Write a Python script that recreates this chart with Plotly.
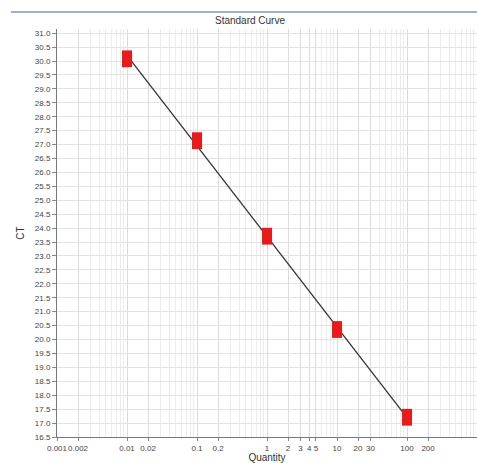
import numpy as np
import plotly.graph_objects as go

quantity = [0.01, 0.1, 1, 10, 100]
ct = [30.08, 27.14, 23.71, 20.36, 17.21]

x_tick_vals = [0.001, 0.002, 0.01, 0.02, 0.1, 0.2, 1, 2, 3, 4, 5, 10, 20, 30, 100, 200, 1000]
x_tick_text = ["0.001", "0.002", "0.01", "0.02", "0.1", "0.2", "1", "2", "3", "4", "5", "10", "20", "30", "100", "200", "1000"]

# regression line from the data
coef = np.polyfit(np.log10(quantity), ct, 1)
fit_x = [quantity[0], quantity[-1]]
fit_y = list(np.polyval(coef, np.log10(fit_x)))

minor_vals = [k * 10.0 ** e for e in range(-3, 3) for k in range(1, 10)]

fig = go.Figure()
fig.add_trace(go.Scatter(
    x=fit_x, y=fit_y, mode="lines",
    line=dict(color="#333333", width=1.3), hoverinfo="skip", showlegend=False))
fig.add_trace(go.Scatter(
    x=quantity, y=ct, mode="markers",
    marker=dict(symbol="line-ns", size=12, color="#e81a1a",
                line=dict(width=10, color="#e81a1a")),
    showlegend=False))

font_xtick = dict(family="Liberation Sans Narrow, Liberation Sans, Arial, sans-serif", size=8, color="#444444")
font_ytick = dict(family="Liberation Sans, Arial, sans-serif", size=8, color="#444444")
font_title = dict(family="Liberation Sans, Arial, sans-serif", size=10, color="#333333")

fig.update_layout(
    width=477, height=463,
    margin=dict(l=57, r=0, t=29, b=23),
    paper_bgcolor="white", plot_bgcolor="white",
    title=dict(text="Standard Curve", x=250 / 477, xanchor="center",
               y=1 - 20 / 463, yanchor="middle", yref="container",
               font=font_title),
    xaxis=dict(
        type="log", range=[-3, 3], tickmode="array",
        tickvals=x_tick_vals, ticktext=x_tick_text, tickfont=font_xtick,
        tickangle=0,
        ticks="outside", ticklen=3, tickcolor="#888888",
        showline=True, linecolor="#777777", linewidth=1,
        showgrid=True, gridcolor="#dcdcdc", gridwidth=1,
        minor=dict(tickmode="array", tickvals=minor_vals, showgrid=True,
                   gridcolor="#ececec", gridwidth=1, ticks=""),
        zeroline=False,
        title=dict(text="Quantity", standoff=3, font=font_title),
    ),
    yaxis=dict(
        range=[16.5, 31.15], dtick=0.5, tick0=16.5, tickformat=".1f",
        tickfont=font_ytick, ticks="outside", ticklen=4, tickcolor="#888888",
        showline=True, linecolor="#777777", linewidth=1,
        showgrid=True, gridcolor="#e3e3e3", gridwidth=1, zeroline=False,
        title=dict(text="CT", standoff=8, font=font_title),
    ),
    shapes=[
        dict(type="line", xref="paper", yref="paper",
             x0=-46 / 420, x1=1.0, y0=1 + 17 / 411, y1=1 + 17 / 411,
             line=dict(color="#9fb3c8", width=2)),
    ],
)

fig.write_html("out.html", config={"displayModeBar": False},
               post_script="document.body.style.margin='0';document.body.style.overflow='hidden';")
